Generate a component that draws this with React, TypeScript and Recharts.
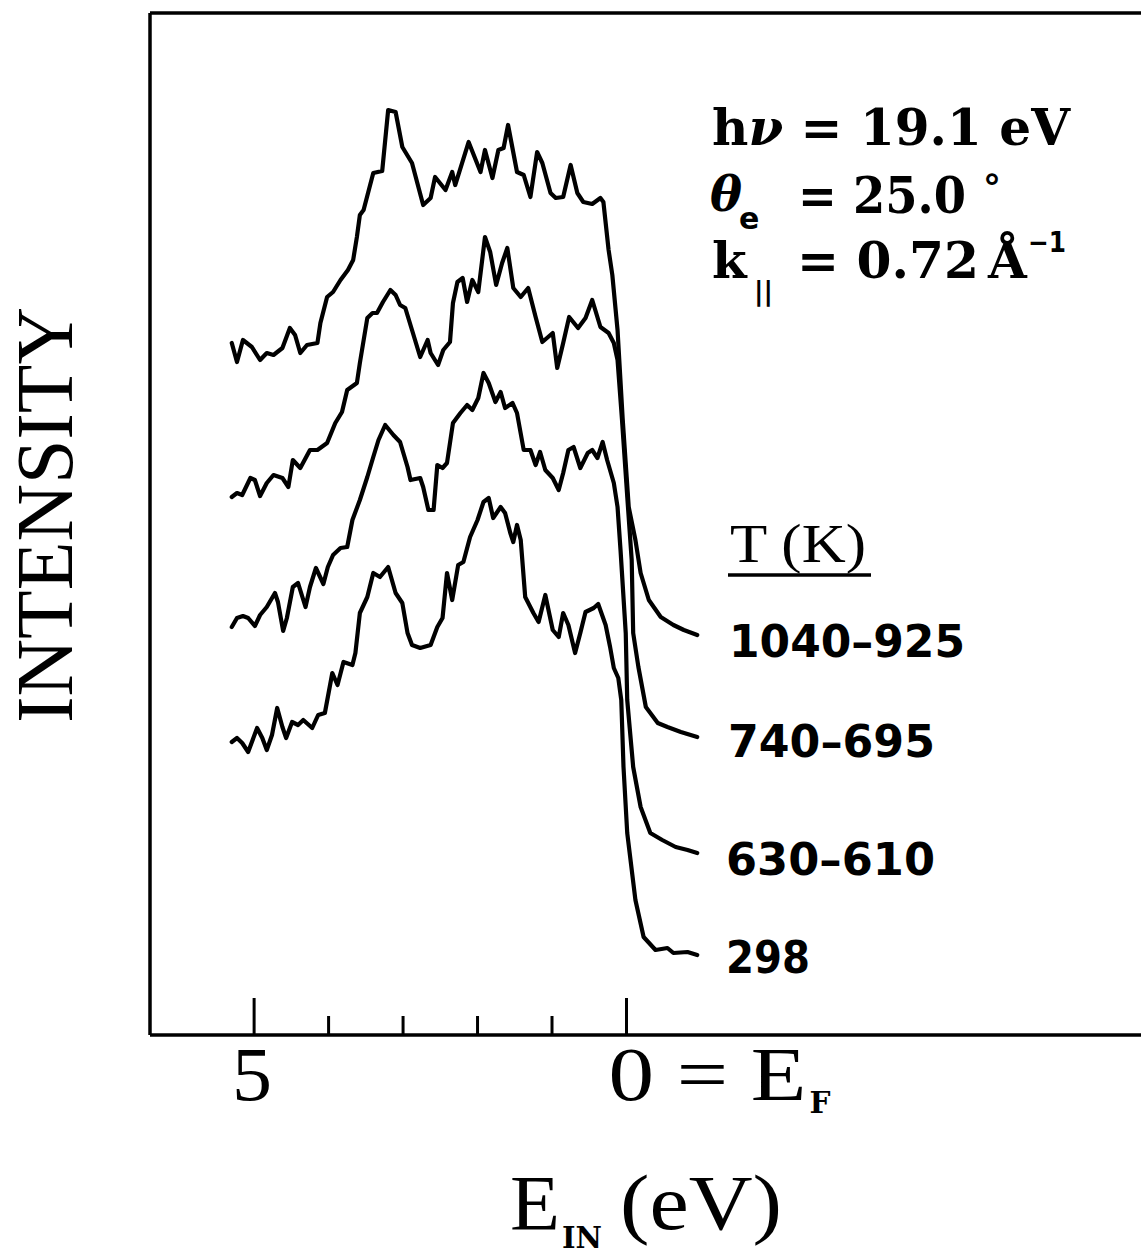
import React from 'react';
import { LineChart, Line, XAxis, YAxis, Customized } from 'recharts';

// Energy below E_F (eV) and intensity (arb. units, curves offset)
const e1040 = [5.30, 5.23, 5.15, 5.03, 4.92, 4.83, 4.74, 4.62, 4.52, 4.45, 4.38, 4.29, 4.15, 4.11, 4.02, 3.94, 3.84, 3.74, 3.67, 3.62, 3.58, 3.53, 3.40, 3.28, 3.20, 3.10, 3.01, 2.88, 2.73, 2.63, 2.57, 2.43, 2.34, 2.30, 2.12, 1.96, 1.90, 1.80, 1.72, 1.65, 1.59, 1.47, 1.38, 1.29, 1.20, 1.13, 1.02, 0.95, 0.85, 0.75, 0.66, 0.58, 0.46, 0.35, 0.31, 0.24, 0.19, 0.12, 0.05, -0.03, -0.12, -0.19, -0.30, -0.46, -0.63, -0.77, -0.95];
const i1040 = [69.2, 67.3, 69.5, 68.8, 67.5, 68.2, 68.0, 68.7, 70.7, 70.0, 68.2, 69.0, 69.2, 71.2, 73.8, 74.3, 75.5, 76.5, 77.5, 79.8, 82.0, 82.5, 86.2, 86.4, 92.5, 92.3, 88.8, 87.2, 83.0, 83.7, 85.8, 84.5, 86.3, 85.0, 89.3, 86.3, 88.5, 85.7, 88.5, 88.7, 91.0, 86.3, 86.0, 83.8, 88.3, 87.2, 84.2, 83.7, 83.8, 87.0, 84.2, 83.3, 83.1, 83.7, 83.3, 78.5, 76.0, 70.5, 61.5, 52.8, 49.5, 46.2, 43.5, 41.8, 41.0, 40.5, 40.0];

const e740 = [5.30, 5.23, 5.16, 5.05, 4.99, 4.92, 4.83, 4.74, 4.62, 4.54, 4.48, 4.38, 4.25, 4.15, 4.02, 3.91, 3.82, 3.75, 3.62, 3.58, 3.48, 3.41, 3.35, 3.27, 3.17, 3.10, 3.04, 2.97, 2.88, 2.77, 2.67, 2.63, 2.53, 2.46, 2.37, 2.33, 2.27, 2.20, 2.14, 2.07, 1.99, 1.90, 1.83, 1.75, 1.67, 1.60, 1.52, 1.42, 1.32, 1.22, 1.13, 0.99, 0.93, 0.85, 0.77, 0.65, 0.55, 0.46, 0.35, 0.24, 0.17, 0.12, 0.06, -0.02, -0.07, -0.09, -0.16, -0.26, -0.42, -0.55, -0.73, -0.95];
const i740 = [53.8, 54.2, 54.0, 55.7, 55.5, 53.9, 55.2, 56.0, 55.7, 54.8, 57.5, 56.7, 58.5, 58.5, 59.2, 61.2, 62.3, 64.5, 65.2, 67.2, 71.7, 72.2, 72.2, 73.3, 74.5, 74.0, 73.0, 72.7, 70.5, 67.8, 69.5, 68.2, 67.0, 68.5, 69.3, 73.2, 75.3, 75.7, 73.3, 75.5, 74.3, 79.8, 78.3, 75.0, 77.2, 78.7, 74.7, 73.8, 74.7, 71.8, 69.3, 70.2, 66.7, 69.2, 71.8, 70.7, 71.7, 73.5, 70.8, 70.2, 69.2, 67.5, 61.5, 52.8, 47.5, 40.2, 36.8, 32.8, 31.2, 30.8, 30.3, 29.8];

const e630 = [5.30, 5.23, 5.15, 5.08, 4.99, 4.92, 4.83, 4.72, 4.68, 4.61, 4.56, 4.48, 4.41, 4.31, 4.25, 4.17, 4.07, 4.01, 3.94, 3.84, 3.75, 3.68, 3.58, 3.48, 3.40, 3.33, 3.24, 3.13, 3.04, 2.94, 2.90, 2.77, 2.73, 2.66, 2.59, 2.54, 2.47, 2.41, 2.33, 2.23, 2.14, 2.07, 1.99, 1.92, 1.85, 1.76, 1.69, 1.63, 1.53, 1.47, 1.38, 1.29, 1.22, 1.16, 1.09, 0.99, 0.91, 0.85, 0.78, 0.71, 0.62, 0.52, 0.46, 0.39, 0.32, 0.26, 0.17, 0.12, 0.08, 0.01, -0.01, -0.09, -0.19, -0.32, -0.48, -0.66, -0.82, -0.95];
const i630 = [40.8, 41.7, 41.9, 41.7, 40.9, 42.0, 42.8, 44.2, 43.3, 40.4, 41.7, 44.8, 45.2, 42.8, 44.8, 46.7, 45.1, 46.8, 48.0, 48.7, 48.8, 51.5, 53.5, 55.8, 57.8, 59.5, 61.0, 60.0, 59.3, 56.8, 55.5, 55.7, 54.8, 52.5, 52.5, 57.0, 56.7, 57.2, 61.2, 62.2, 63.0, 62.5, 63.7, 66.2, 65.2, 63.3, 64.3, 62.7, 63.2, 62.2, 58.5, 58.5, 57.0, 58.3, 56.5, 55.7, 54.5, 56.2, 58.5, 58.8, 56.7, 58.2, 58.5, 57.7, 59.3, 57.5, 55.2, 52.8, 48.5, 40.2, 33.5, 26.8, 22.8, 20.2, 19.5, 18.8, 18.5, 18.2];

const e298 = [5.30, 5.23, 5.16, 5.08, 4.96, 4.89, 4.83, 4.76, 4.69, 4.62, 4.57, 4.49, 4.41, 4.34, 4.22, 4.14, 4.05, 3.95, 3.88, 3.80, 3.68, 3.64, 3.58, 3.48, 3.40, 3.31, 3.20, 3.10, 3.01, 2.94, 2.88, 2.77, 2.63, 2.54, 2.47, 2.41, 2.34, 2.26, 2.19, 2.10, 2.00, 1.92, 1.85, 1.79, 1.69, 1.63, 1.56, 1.52, 1.47, 1.42, 1.36, 1.25, 1.18, 1.09, 0.99, 0.91, 0.85, 0.78, 0.69, 0.62, 0.55, 0.44, 0.38, 0.28, 0.22, 0.17, 0.11, 0.07, 0.04, -0.01, -0.12, -0.23, -0.39, -0.55, -0.63, -0.82, -0.95];
const i298 = [29.3, 29.7, 29.2, 28.3, 30.7, 29.7, 28.5, 30.0, 32.7, 30.8, 29.7, 31.3, 31.0, 31.5, 30.7, 32.0, 32.2, 36.2, 35.0, 37.3, 37.0, 38.2, 42.2, 43.8, 46.2, 45.8, 46.8, 44.2, 43.2, 40.2, 39.0, 38.7, 39.0, 40.8, 41.7, 46.2, 43.5, 47.0, 47.3, 49.8, 51.5, 53.3, 53.7, 51.7, 52.8, 52.2, 50.2, 49.3, 51.0, 49.5, 43.8, 42.2, 41.3, 44.0, 40.5, 39.8, 42.2, 41.0, 38.2, 40.2, 42.3, 42.7, 43.1, 41.0, 38.8, 36.7, 35.7, 33.5, 26.8, 20.2, 13.5, 9.8, 8.5, 8.7, 8.2, 8.3, 8.0];

const seriesNames = ['1040–925', '740–695', '630–610', '298'];
const xTicks = [5, 4, 3, 2, 1, 0];

const toRows = (e: number[], v: number[]) => e.map((x, i) => ({ e: x, v: v[i] }));
const series = [
  { name: seriesNames[0], data: toRows(e1040, i1040) },
  { name: seriesNames[1], data: toRows(e740, i740) },
  { name: seriesNames[2], data: toRows(e630, i630) },
  { name: seriesNames[3], data: toRows(e298, i298) },
];

const SERIF = '"Liberation Serif", "Times New Roman", serif';
const BOLD = '"DejaVu Sans", sans-serif';
const BSERIF = '"DejaVu Serif", serif';

const XTick = (props: any) => {
  const { x, payload } = props;
  const y = 1035;
  const v = payload.value;
  const major = v === 0 || v === 5;
  return (
    <g>
      <line x1={x} x2={x} y1={y} y2={y - (major ? 37 : 19)} stroke="#000" strokeWidth={3} />
      {v === 5 && (
        <text x={x - 2} y={y + 65} textAnchor="middle" fontSize={76} fontFamily={SERIF} fill="#000" textLength={40} lengthAdjust="spacingAndGlyphs">5</text>
      )}
      {v === 0 && (
        <g>
          <text x={x - 18} y={y + 65} fontSize={76} fontFamily={SERIF} fill="#000" textLength={198} lengthAdjust="spacingAndGlyphs">0 = E</text>
          <text x={x + 183} y={y + 78} fontSize={30} fontWeight="bold" fontFamily={BSERIF} fill="#000" textLength={21} lengthAdjust="spacingAndGlyphs">F</text>
        </g>
      )}
    </g>
  );
};

const Annotations = () => (
  <g fill="#000">
    {/* axis titles */}
    <text x={72} y={515} transform="rotate(-90, 72, 515)" textAnchor="middle" fontSize={80} fontFamily={SERIF} textLength={416} lengthAdjust="spacingAndGlyphs">INTENSITY</text>
    <text x={510} y={1229} fontSize={78} fontFamily={SERIF} textLength={50} lengthAdjust="spacingAndGlyphs">E</text>
    <text x={562} y={1248} fontSize={30} fontWeight="bold" fontFamily={BSERIF} textLength={40} lengthAdjust="spacingAndGlyphs">IN</text>
    <text x={620} y={1229} fontSize={78} fontFamily={SERIF} textLength={162} lengthAdjust="spacingAndGlyphs">(eV)</text>

    {/* parameters */}
    <text x={712} y={145} fontSize={50} fontWeight="bold" fontFamily={BSERIF} textLength={358} lengthAdjust="spacingAndGlyphs">h<tspan fontStyle="italic">ν</tspan> = 19.1 eV</text>
    <text x={710} y={211} fontSize={48} fontWeight="bold" fontStyle="italic" fontFamily={BSERIF}>θ</text>
    <text x={739} y={229} fontSize={30} fontWeight="bold" fontFamily={BOLD}>e</text>
    <text x={798} y={213} fontSize={50} fontWeight="bold" fontFamily={BSERIF} textLength={168} lengthAdjust="spacingAndGlyphs">= 25.0</text>
    <text x={983} y={200} fontSize={36} fontWeight="bold" fontFamily={BSERIF}>°</text>
    <text x={712} y={278} fontSize={50} fontWeight="bold" fontFamily={BSERIF}>k</text>
    <text x={754} y={300} fontSize={26} fontWeight="bold" fontFamily={BOLD}>||</text>
    <text x={797} y={278} fontSize={50} fontWeight="bold" fontFamily={BSERIF} textLength={182} lengthAdjust="spacingAndGlyphs">= 0.72</text>
    <text x={988} y={278} fontSize={50} fontWeight="bold" fontFamily={BSERIF}>Å</text>
    <text x={1028} y={252} fontSize={28} fontWeight="bold" fontFamily={BOLD} textLength={38} lengthAdjust="spacingAndGlyphs">−1</text>

    {/* temperature legend */}
    <text x={730} y={562} fontSize={54} fontFamily={SERIF} textLength={136} lengthAdjust="spacingAndGlyphs">T (K)</text>
    <line x1={728} x2={871} y1={575} y2={575} stroke="#000" strokeWidth={3.5} />
    <text x={729} y={657} fontSize={44} fontWeight="bold" fontFamily={BOLD} textLength={236} lengthAdjust="spacingAndGlyphs">{seriesNames[0]}</text>
    <text x={728} y={757} fontSize={44} fontWeight="bold" fontFamily={BOLD} textLength={207} lengthAdjust="spacingAndGlyphs">{seriesNames[1]}</text>
    <text x={726} y={875} fontSize={44} fontWeight="bold" fontFamily={BOLD} textLength={209} lengthAdjust="spacingAndGlyphs">{seriesNames[2]}</text>
    <text x={726} y={973} fontSize={44} fontWeight="bold" fontFamily={BOLD} textLength={84} lengthAdjust="spacingAndGlyphs">{seriesNames[3]}</text>
  </g>
);

export default function App() {
  return (
    <div style={{ position: 'absolute', left: 0, top: 0, width: 1141, height: 1254, overflow: 'hidden', background: '#fff' }}>
      <LineChart width={1200} height={1254} margin={{ top: 12, right: 49, bottom: 218, left: 149 }}>
        <XAxis
          dataKey="e"
          type="number"
          domain={[-7.043, 6.398]}
          reversed
          allowDataOverflow
          ticks={xTicks}
          interval={0}
          height={1}
          tickSize={0}
          tickMargin={0}
          tickLine={false}
          tick={<XTick />}
          axisLine={{ stroke: '#000', strokeWidth: 3.5 }}
        />
        <XAxis
          xAxisId="top"
          orientation="top"
          dataKey="e"
          type="number"
          domain={[-7.043, 6.398]}
          reversed
          allowDataOverflow
          height={1}
          tick={false}
          tickLine={false}
          axisLine={{ stroke: '#000', strokeWidth: 3.5 }}
        />
        <YAxis
          type="number"
          domain={[0, 102.2]}
          allowDataOverflow
          width={1}
          tick={false}
          tickLine={false}
          axisLine={{ stroke: '#000', strokeWidth: 3.5 }}
        />
        {series.map((s) => (
          <Line
            key={s.name}
            name={s.name}
            data={s.data}
            dataKey="v"
            type="linear"
            stroke="#000"
            strokeWidth={4.2}
            strokeLinejoin="round"
            strokeLinecap="round"
            dot={false}
            activeDot={false}
            isAnimationActive={false}
          />
        ))}
        <Customized component={Annotations} />
      </LineChart>
    </div>
  );
}
